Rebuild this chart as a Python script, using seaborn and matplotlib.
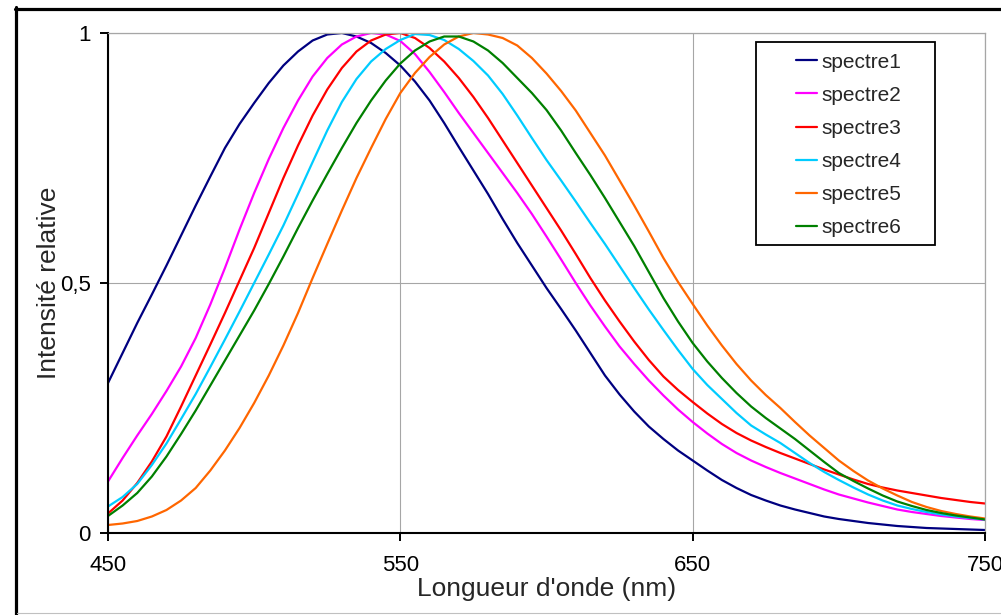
import pandas as pd
import numpy as np
import matplotlib
matplotlib.use('Agg')
import matplotlib.pyplot as plt
import seaborn as sns
from matplotlib.lines import Line2D
from matplotlib.patches import Rectangle

# Wavelength grid (nm), every 5 nm
wavelength = list(range(450, 751, 5))

# Relative intensity, one list per spectrum
spectre1 = [0.30, 0.36, 0.42, 0.477, 0.535, 0.595, 0.655, 0.713, 0.77, 0.818,
            0.86, 0.90, 0.935, 0.963, 0.985, 0.997, 1.0, 0.993, 0.98, 0.96,
            0.935, 0.903, 0.865, 0.82, 0.772, 0.725, 0.678, 0.628, 0.58, 0.535,
            0.49, 0.448, 0.405, 0.36, 0.315, 0.277, 0.243, 0.213, 0.188, 0.165,
            0.145, 0.125, 0.106, 0.09, 0.076, 0.065, 0.055, 0.047, 0.04, 0.033,
            0.028, 0.024, 0.02, 0.017, 0.014, 0.012, 0.01, 0.009, 0.008, 0.007, 0.006]
spectre2 = [0.103, 0.15, 0.195, 0.238, 0.284, 0.333, 0.39, 0.457, 0.53, 0.607,
            0.68, 0.748, 0.81, 0.865, 0.913, 0.95, 0.977, 0.993, 1.0, 0.997,
            0.984, 0.958, 0.922, 0.882, 0.84, 0.80, 0.76, 0.72, 0.68, 0.638,
            0.593, 0.547, 0.50, 0.455, 0.413, 0.373, 0.338, 0.305, 0.275, 0.247,
            0.222, 0.199, 0.178, 0.16, 0.145, 0.132, 0.12, 0.109, 0.098, 0.087,
            0.077, 0.069, 0.061, 0.054, 0.047, 0.042, 0.038, 0.034, 0.031, 0.028, 0.026]
spectre3 = [0.039, 0.065, 0.10, 0.143, 0.193, 0.253, 0.315, 0.377, 0.44, 0.505,
            0.57, 0.64, 0.71, 0.775, 0.835, 0.887, 0.93, 0.963, 0.985, 0.997,
            1.0, 0.99, 0.97, 0.943, 0.91, 0.872, 0.83, 0.785, 0.74, 0.695,
            0.65, 0.605, 0.558, 0.51, 0.465, 0.423, 0.383, 0.346, 0.313, 0.286,
            0.262, 0.239, 0.218, 0.20, 0.185, 0.172, 0.16, 0.149, 0.138, 0.127,
            0.117, 0.107, 0.098, 0.091, 0.085, 0.08, 0.075, 0.07, 0.066, 0.062, 0.059]
spectre4 = [0.053, 0.072, 0.098, 0.136, 0.179, 0.228, 0.278, 0.332, 0.387, 0.443,
            0.50, 0.557, 0.615, 0.678, 0.742, 0.805, 0.862, 0.908, 0.943, 0.968,
            0.986, 0.998, 0.996, 0.986, 0.968, 0.944, 0.915, 0.878, 0.835, 0.79,
            0.746, 0.705, 0.663, 0.62, 0.578, 0.534, 0.49, 0.447, 0.406, 0.366,
            0.328, 0.296, 0.268, 0.24, 0.215, 0.197, 0.18, 0.16, 0.14, 0.122,
            0.106, 0.091, 0.077, 0.065, 0.055, 0.048, 0.042, 0.037, 0.033, 0.03, 0.027]
spectre5 = [0.016, 0.019, 0.024, 0.033, 0.046, 0.065, 0.09, 0.125, 0.165, 0.21,
            0.26, 0.315, 0.375, 0.44, 0.51, 0.578, 0.645, 0.71, 0.77, 0.828,
            0.88, 0.92, 0.952, 0.977, 0.993, 1.0, 0.997, 0.99, 0.975, 0.95,
            0.919, 0.884, 0.845, 0.80, 0.755, 0.705, 0.655, 0.603, 0.55, 0.502,
            0.458, 0.415, 0.375, 0.338, 0.305, 0.276, 0.25, 0.222, 0.195, 0.17,
            0.145, 0.124, 0.105, 0.089, 0.075, 0.062, 0.052, 0.044, 0.038, 0.033, 0.029]
spectre6 = [0.034, 0.055, 0.08, 0.113, 0.153, 0.198, 0.245, 0.295, 0.345, 0.395,
            0.445, 0.498, 0.553, 0.61, 0.665, 0.718, 0.77, 0.82, 0.865, 0.905,
            0.939, 0.965, 0.983, 0.993, 0.993, 0.983, 0.965, 0.94, 0.91, 0.88,
            0.846, 0.805, 0.76, 0.716, 0.67, 0.622, 0.574, 0.522, 0.47, 0.423,
            0.38, 0.343, 0.31, 0.28, 0.253, 0.23, 0.209, 0.188, 0.165, 0.142,
            0.12, 0.104, 0.089, 0.075, 0.063, 0.054, 0.046, 0.04, 0.035, 0.031, 0.027]

series_names = ['spectre1', 'spectre2', 'spectre3', 'spectre4', 'spectre5', 'spectre6']
series_values = [spectre1, spectre2, spectre3, spectre4, spectre5, spectre6]
colors = ['#000080', '#FF00FF', '#FF0000', '#00CCFF', '#FF6600', '#008000']

x_ticks = [450, 550, 650, 750]
x_tick_labels = ['450', '550', '650', '750']
y_ticks = [0, 0.5, 1]
y_tick_labels = ['0', '0,5', '1']

# Long-form table for seaborn
df = pd.concat([pd.DataFrame({'wavelength': wavelength, 'intensity': vals, 'spectre': name})
                for name, vals in zip(series_names, series_values)], ignore_index=True)

sns.set_style('white')
plt.rcParams['font.family'] = ['Liberation Sans', 'DejaVu Sans']

fig = plt.figure(figsize=(10.01, 6.15), dpi=100)
ax = fig.add_axes([108 / 1001, 1 - 533 / 615, 877 / 1001, 500 / 615])

sns.lineplot(data=df, x='wavelength', y='intensity', hue='spectre',
             palette=dict(zip(series_names, colors)), linewidth=1.6, ax=ax)

ax.set_xlim(450, 750)
ax.set_ylim(0, 1)
ax.set_xticks(x_ticks)
ax.set_xticklabels(x_tick_labels)
ax.set_yticks(y_ticks)
ax.set_yticklabels(y_tick_labels)
ax.tick_params(axis='both', direction='out', length=6, width=1.4, color='black',
               labelsize=16, labelcolor='black')
ax.tick_params(axis='x', pad=10, bottom=True)
ax.tick_params(axis='y', pad=6.5, left=True)

# Excel-like frame: black axes, grey plot-area border and gridlines
for side in ['left', 'bottom']:
    ax.spines[side].set_color('black')
    ax.spines[side].set_linewidth(1.5)
for side in ['top', 'right']:
    ax.spines[side].set_color('#A6A6A6')
    ax.spines[side].set_linewidth(0.9)
ax.grid(True, color='#A6A6A6', linewidth=0.8)
ax.set_axisbelow(True)

ax.set_xlabel("Longueur d'onde (nm)", fontsize=19)
ax.set_ylabel('Intensité relative', fontsize=19)
ax.xaxis.set_label_coords(0.5, (533 - 577) / 500)
ax.xaxis.label.set_va('top')
ax.yaxis.set_label_coords((61 - 108) / 877, 0.5)

# Legend box (wide side padding like Excel) drawn as a frame, entries placed inside
ax.add_patch(Rectangle((756 / 1001, 1 - 245 / 615), 179 / 1001, 203 / 615,
                       transform=fig.transFigure, facecolor='white', edgecolor='black',
                       linewidth=1.3, zorder=4, clip_on=False))
handles, labels = ax.get_legend_handles_labels()
leg = ax.legend(handles, labels, loc='upper left', bbox_to_anchor=((796 - 108) / 877, (533 - 52.5) / 500),
                borderaxespad=0, borderpad=0, fontsize=15, frameon=False,
                handlelength=1.0, handletextpad=0.22, labelspacing=0.68)
leg.set_zorder(6)

# Outer chart border (black on top/left, thin grey at bottom)
fig.add_artist(Line2D([15 / 1001, 1], [1 - 8.5 / 615, 1 - 8.5 / 615], color='black', lw=2.3,
                      transform=fig.transFigure))
fig.add_artist(Line2D([15.5 / 1001, 15.5 / 1001], [0, 1 - 7 / 615], color='black', lw=2.3,
                      transform=fig.transFigure))
fig.add_artist(Line2D([17 / 1001, 1], [1 - 613 / 615, 1 - 613 / 615], color='#C0C0C0', lw=0.8,
                      transform=fig.transFigure))

fig.savefig('out.png', dpi=100)
